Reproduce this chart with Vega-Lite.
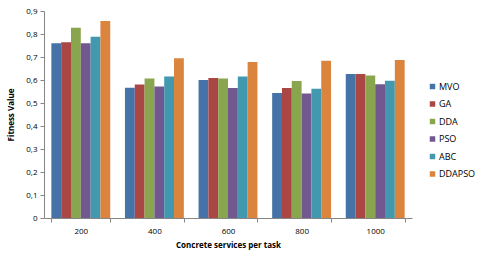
{
  "$schema": "https://vega.github.io/schema/vega-lite/v6.json",
  "autosize": "none",
  "width": 368,
  "height": 207,
  "padding": {"left": 44, "top": 11, "right": 68, "bottom": 40},
  "background": "white",
  "config": {
    "view": {"stroke": null},
    "font": "Open Sans",
    "axis": {"grid": false, "domainColor": "#868686", "tickColor": "#868686", "labelColor": "#000", "labelFontSize": 8, "titleFontSize": 8, "titleFontWeight": "bold", "titleColor": "#000"}
  },
  "data": {"values": [
    {"n": "200", "alg": "MVO", "v": 0.760},
    {"n": "200", "alg": "GA", "v": 0.764},
    {"n": "200", "alg": "DDA", "v": 0.827},
    {"n": "200", "alg": "PSO", "v": 0.760},
    {"n": "200", "alg": "ABC", "v": 0.788},
    {"n": "200", "alg": "DDAPSO", "v": 0.857},
    {"n": "400", "alg": "MVO", "v": 0.566},
    {"n": "400", "alg": "GA", "v": 0.580},
    {"n": "400", "alg": "DDA", "v": 0.606},
    {"n": "400", "alg": "PSO", "v": 0.572},
    {"n": "400", "alg": "ABC", "v": 0.615},
    {"n": "400", "alg": "DDAPSO", "v": 0.695},
    {"n": "600", "alg": "MVO", "v": 0.600},
    {"n": "600", "alg": "GA", "v": 0.609},
    {"n": "600", "alg": "DDA", "v": 0.606},
    {"n": "600", "alg": "PSO", "v": 0.565},
    {"n": "600", "alg": "ABC", "v": 0.615},
    {"n": "600", "alg": "DDAPSO", "v": 0.678},
    {"n": "800", "alg": "MVO", "v": 0.544},
    {"n": "800", "alg": "GA", "v": 0.565},
    {"n": "800", "alg": "DDA", "v": 0.596},
    {"n": "800", "alg": "PSO", "v": 0.541},
    {"n": "800", "alg": "ABC", "v": 0.562},
    {"n": "800", "alg": "DDAPSO", "v": 0.684},
    {"n": "1000", "alg": "MVO", "v": 0.626},
    {"n": "1000", "alg": "GA", "v": 0.626},
    {"n": "1000", "alg": "DDA", "v": 0.620},
    {"n": "1000", "alg": "PSO", "v": 0.581},
    {"n": "1000", "alg": "ABC", "v": 0.597},
    {"n": "1000", "alg": "DDAPSO", "v": 0.687}
  ]},
  "mark": {"type": "bar"},
  "encoding": {
    "x": {
      "field": "n", "type": "nominal", "sort": ["200", "400", "600", "800", "1000"],
      "scale": {"paddingInner": 0.2, "paddingOuter": 0.1},
      "axis": {"title": "Concrete services per task", "labelAngle": 0, "tickBand": "extent", "tickSize": 4, "labelPadding": 5, "titlePadding": 6}
    },
    "xOffset": {"field": "alg", "type": "nominal", "sort": ["MVO", "GA", "DDA", "PSO", "ABC", "DDAPSO"], "scale": {"paddingInner": 0, "paddingOuter": 0}},
    "y": {
      "field": "v", "type": "quantitative",
      "scale": {"domain": [0, 0.9], "nice": false},
      "axis": {"title": "Fitness Value", "values": [0, 0.1, 0.2, 0.3, 0.4, 0.5, 0.6, 0.7, 0.8, 0.9], "labelExpr": "replace(format(datum.value, '.1~f'), '.', ',')", "tickSize": 4, "labelPadding": 3, "titlePadding": 10}
    },
    "color": {
      "field": "alg", "type": "nominal", "sort": ["MVO", "GA", "DDA", "PSO", "ABC", "DDAPSO"],
      "scale": {"domain": ["MVO", "GA", "DDA", "PSO", "ABC", "DDAPSO"], "range": ["#4572A7", "#AA4643", "#89A54E", "#71588F", "#4198AF", "#DB843D"]},
      "legend": {"title": null, "orient": "none", "legendX": 384, "legendY": 71, "symbolType": "square", "symbolSize": 30, "symbolStrokeWidth": 0, "labelFontSize": 9, "labelOffset": 2, "rowPadding": 7.5, "padding": 0}
    }
  }
}
